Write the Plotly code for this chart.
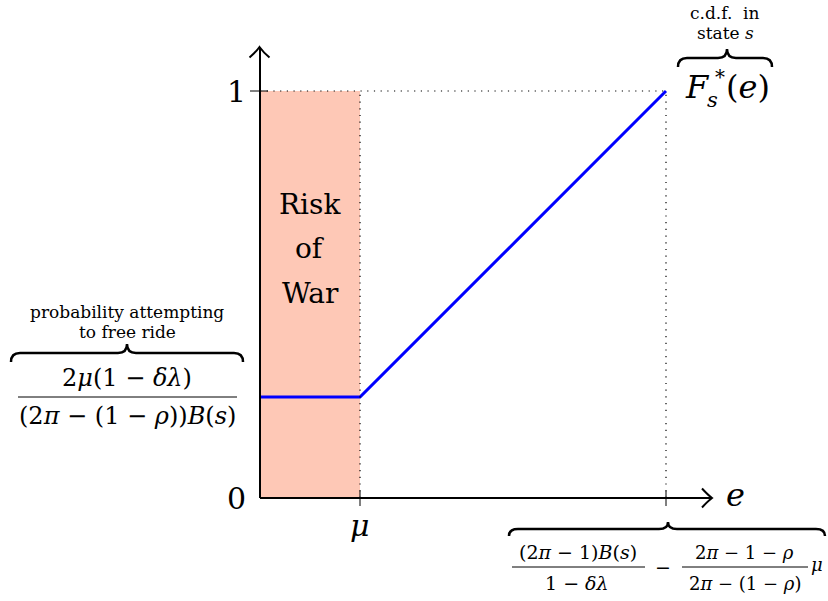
import plotly.graph_objects as go

# ---------------- data ----------------
mu = 1.0                       # position of mu on the e axis
e_bar = 4.06                   # upper end of the support
e_points = [0.0, mu, e_bar]    # e values of the c.d.f. kinks
F_points = [0.248, 0.248, 1.0] # F*_s(e) at those points
y_tick_vals = [0, 1]
y_tick_text = ["0", "1"]
x_tick_vals = [mu, e_bar]

# ---------------- canvas mapping (page pixel -> data) ----------------
W, H = 828, 601
X0, Y0, SX, SY = 260.0, 498.0, 100.0, 407.0
def dx(p): return (p - X0) / SX
def dy(p): return (Y0 - p) / SY

FONT = "DejaVu Serif"
BLACK = "#000000"
M = " − "   # binary minus

fig = go.Figure()

shapes = []
annotations = []

# shaded "risk of war" region
shapes.append(dict(type="rect", xref="x", yref="y", x0=0, x1=mu, y0=0, y1=1,
                   fillcolor="#FEC8B6", line=dict(width=0), layer="below"))

# dotted guide lines
DOT = "1.2px,5.5px"
shapes.append(dict(type="line", xref="x", yref="y", x0=0, x1=e_bar, y0=1, y1=1,
                   line=dict(color=BLACK, width=1.2, dash=DOT)))
for xv in x_tick_vals:
    shapes.append(dict(type="line", xref="x", yref="y", x0=xv, x1=xv, y0=0, y1=1,
                       line=dict(color=BLACK, width=1.2, dash=DOT)))

# axes
shapes.append(dict(type="line", xref="x", yref="y", x0=0, x1=dx(711), y0=0, y1=0,
                   line=dict(color=BLACK, width=2)))
shapes.append(dict(type="line", xref="x", yref="y", x0=0, x1=0, y0=0, y1=dy(48),
                   line=dict(color=BLACK, width=2)))

def path(cmds):
    out = []
    for c in cmds:
        if isinstance(c, str):
            out.append(c)
        else:
            out.append(f"{dx(c[0])},{dy(c[1])}")
    return " ".join(out)

# arrow heads
shapes.append(dict(type="path", xref="x", yref="y",
                   path=path(["M", (702, 488.5), "Q", (708, 495), (712, 498), "Q", (708, 501), (702, 507.5)]),
                   line=dict(color=BLACK, width=2)))
shapes.append(dict(type="path", xref="x", yref="y",
                   path=path(["M", (249.5, 57.5), "Q", (256, 52), (259.5, 47), "Q", (263, 52), (269.5, 57.5)]),
                   line=dict(color=BLACK, width=2)))

# ticks
for yv in y_tick_vals[1:]:
    shapes.append(dict(type="line", xref="x", yref="y", x0=dx(250), x1=dx(268), y0=yv, y1=yv,
                       line=dict(color=BLACK, width=1)))
for xv in x_tick_vals:
    shapes.append(dict(type="line", xref="x", yref="y", x0=xv, x1=xv, y0=dy(491), y1=dy(506),
                       line=dict(color=BLACK, width=1)))

# braces (tip pointing up)
def brace(x0, x1, xm, yb, yt, r=9):
    ym = (yb + yt) / 2.0
    return path(["M", (x0, yb), "Q", (x0, ym), (x0 + r, ym), "L", (xm - r, ym),
                 "Q", (xm, ym), (xm, yt), "Q", (xm, ym), (xm + r, ym),
                 "L", (x1 - r, ym), "Q", (x1, ym), (x1, yb)])

for b in [(11, 243, 127, 362, 344), (678, 772, 727, 67, 49), (509, 825, 668, 536, 522)]:
    shapes.append(dict(type="path", xref="x", yref="y", path=brace(*b),
                       line=dict(color=BLACK, width=2.5)))

# fraction bars
for (a, b, y) in [(18, 237, 397), (512, 645, 567), (682, 808, 567)]:
    shapes.append(dict(type="line", xref="x", yref="y", x0=dx(a), x1=dx(b), y0=dy(y), y1=dy(y),
                       line=dict(color=BLACK, width=1)))

# the c.d.f.
fig.add_trace(go.Scatter(x=e_points, y=F_points, mode="lines",
                         line=dict(color="#0000FF", width=3), hoverinfo="skip",
                         showlegend=False))

def txt(text, xp, yp, size, xanchor="center"):
    annotations.append(dict(text=text, x=dx(xp), y=dy(yp), xref="x", yref="y",
                            showarrow=False, xanchor=xanchor, yanchor="middle",
                            font=dict(family=FONT, size=size, color=BLACK)))

# tick labels
for yv, lab in zip(y_tick_vals, y_tick_text):
    txt(lab, 236, Y0 - yv * SY, 30)
txt("<i>μ</i>", 360, 525, 30)
txt("<i>e</i>", 735, 495, 32)

# risk of war
txt("Risk", 310, 204, 28)
txt("of", 310, 248, 28)
txt("War", 310, 293, 28)

# left formula
txt("probability attempting", 127, 312, 17)
txt("to free ride", 127, 332, 17)
txt("2<i>μ</i>(1" + M + "<i>δλ</i>)", 127, 378, 24)
txt("(2<i>π</i>" + M + "(1" + M + "<i>ρ</i>))<i>B</i>(<i>s</i>)", 127, 416, 24)

# top-right label
txt("c.d.f.  in", 725, 13, 17)
txt("state <i>s</i>", 725, 33, 17)
txt("<i>F</i>", 697, 87, 32)
txt("*", 720, 77, 20)
txt("<i>s</i>", 712, 100, 21)
txt("(<i>e</i>)", 748, 87, 32)

# bottom formula
txt("(2<i>π</i>" + M + "1)<i>B</i>(<i>s</i>)", 578, 552, 19)
txt("1" + M + "<i>δλ</i>", 577, 583, 19)
txt("−", 663, 567, 19)
txt("2<i>π</i>" + M + "1" + M + "<i>ρ</i>", 744, 552, 18)
txt("2<i>π</i>" + M + "(1" + M + "<i>ρ</i>)", 745, 583, 18)
txt("<i>μ</i>", 817, 564, 18)

fig.update_layout(
    width=W, height=H, autosize=False,
    margin=dict(l=0, r=0, t=0, b=0),
    paper_bgcolor="white", plot_bgcolor="white",
    xaxis=dict(range=[dx(0), dx(W)], visible=False, fixedrange=True),
    yaxis=dict(range=[dy(H), dy(0)], visible=False, fixedrange=True),
    shapes=shapes, annotations=annotations,
)

fig.write_html("out.html", config={"displayModeBar": False},
               post_script="document.body.style.margin='0px';document.body.style.overflow='hidden';")
